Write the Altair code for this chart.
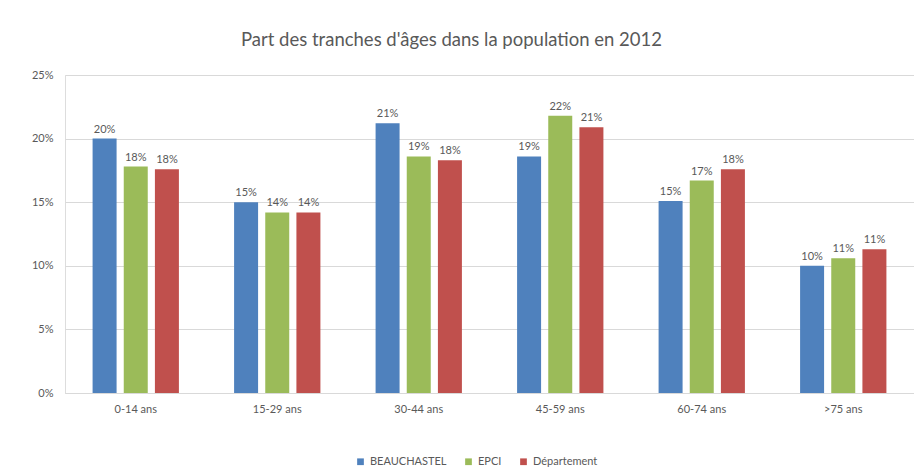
import altair as alt
import pandas as pd

categories = ["0-14 ans", "15-29 ans", "30-44 ans", "45-59 ans", "60-74 ans", ">75 ans"]
series = ["BEAUCHASTEL", "EPCI", "Département"]
beauchastel = [0.200, 0.150, 0.212, 0.186, 0.151, 0.100]
epci = [0.178, 0.142, 0.186, 0.218, 0.167, 0.106]
departement = [0.176, 0.142, 0.183, 0.209, 0.176, 0.113]
colors = ["#4F81BD", "#9BBB59", "#C0504D"]
y_ticks = [0, 0.05, 0.10, 0.15, 0.20, 0.25]

rows = []
for name, vals in zip(series, [beauchastel, epci, departement]):
    for c, v in zip(categories, vals):
        rows.append({"cat": c, "serie": name, "val": v})
df = pd.DataFrame(rows)

FONT = "Lato"

base = alt.Chart(df).encode(
    x=alt.X("cat:N", sort=categories, title=None,
            scale=alt.Scale(paddingInner=0.39, paddingOuter=0.195),
            axis=alt.Axis(labelAngle=0, ticks=False, domain=True, domainColor="#d9d9d9",
                          grid=False, gridColor="transparent", labelColor="#595959",
                          labelFontSize=11, labelFont=FONT, labelPadding=10)),
    xOffset=alt.XOffset("serie:N", sort=series,
                        scale=alt.Scale(paddingInner=0.23, paddingOuter=0)),
    y=alt.Y("val:Q", title=None,
            scale=alt.Scale(domain=[0, 0.25], nice=False),
            axis=alt.Axis(values=y_ticks, format=".0%", ticks=False, domain=False,
                          domainColor="transparent",
                          gridColor="#d9d9d9", labelColor="#595959", labelFontSize=11,
                          labelFont=FONT, labelPadding=12)),
)

bars = base.mark_bar().encode(
    color=alt.Color("serie:N", sort=series,
                    scale=alt.Scale(domain=series, range=colors),
                    legend=alt.Legend(title=None, orient="none", direction="horizontal",
                                      legendX=290, legendY=381, symbolType="square",
                                      symbolSize=45, symbolStrokeWidth=0,
                                      labelFontSize=11, labelFont=FONT,
                                      labelColor="#595959", columnPadding=16,
                                      labelOffset=4))
)

labels = base.mark_text(dy=-9, fontSize=11, font=FONT, color="#595959").encode(
    text=alt.Text("val:Q", format=".0%")
)

chart = alt.layer(bars, labels).properties(
    width=849, height=318,
    title=alt.TitleParams("Part des tranches d'âges dans la population en 2012",
                          fontSize=18.5, font=FONT, fontWeight="normal",
                          color="#595959", anchor="middle", dx=-38, offset=20),
    padding={"left": 57, "top": 67, "right": 0, "bottom": 74},
    autosize=alt.AutoSizeParams(type="none"),
).configure_view(stroke="transparent", strokeWidth=0).configure_axisY(
    domain=False, domainColor="transparent"
).configure(background="white")

chart.save("out.html", embed_options={"renderer": "svg", "actions": False})
